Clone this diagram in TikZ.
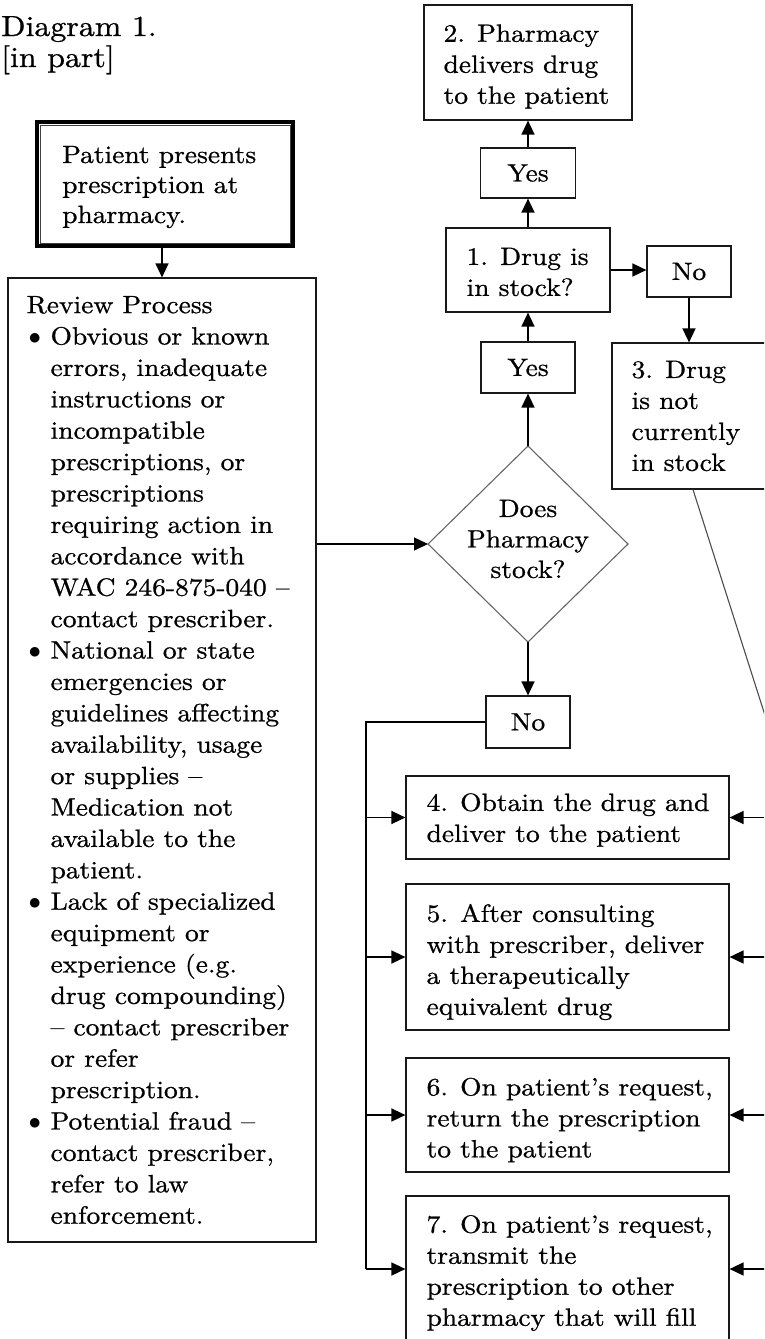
\documentclass[tikz,border=0pt]{standalone}
\usepackage{fontspec}
\setmainfont{lmroman10-regular.otf}[FakeStretch=1.1,FakeBold=0.8]
\usetikzlibrary{arrows.meta}
\newcommand{\bodyf}{\fontsize{25pt}{31pt}\selectfont}
\newcommand{\revf}{\fontsize{25pt}{31.4pt}\selectfont}
\newcommand{\patf}{\fontsize{25pt}{30pt}\selectfont}
\newcommand{\titlef}{\fontsize{29pt}{31pt}\selectfont}
\newcommand{\revbul}{\makebox[24pt][l]{\hspace{2pt}$\bullet$}}
\newcommand{\revind}{\hspace*{24pt}}
\tikzset{
  box/.style={draw=black!90, line width=1.2pt, inner sep=0pt, font=\bodyf, align=center},
  txt/.style={align=left, inner sep=0pt, font=\bodyf, anchor=west},
  conn/.style={line width=1.5pt, draw=black},
  arr/.style={conn, -{Triangle[length=14pt,width=13pt]}},
  diam/.style={draw=black!60, line width=1.1pt},
  thin/.style={draw=black!70, line width=1.1pt},
}
\begin{document}
\begin{tikzpicture}[x=1pt,y=-1pt]
\useasboundingbox (0,0) rectangle (764,1339);
\clip (0,0) rectangle (764,1339);
\fill[white] (0,0) rectangle (764,1339);

% title
\node[anchor=base west, inner sep=0pt, font=\titlef] (title1) at (1,36) {Diagram 1.};
\node[anchor=base west, inner sep=0pt, font=\titlef] (title2) at (1,67) {[in part]};

% patient box (double border)
\node[draw=black, line width=4pt, inner sep=0pt, minimum width=256pt, minimum height=124pt] (patient) at (165,184) {};
\draw[line width=1pt, draw=black!75] ([xshift=5pt,yshift=-5pt]patient.north west) rectangle ([xshift=-5pt,yshift=5pt]patient.south east);
\node[txt, font=\patf] (patienttxt) at ([xshift=27pt,yshift=-3pt]patient.west) {Patient presents\\prescription at\\pharmacy.};

% review box
\node[box, minimum width=308pt, minimum height=964pt] (review) at (162,760) {};
\node[txt, font=\revf] (reviewtxt) at ([xshift=19pt]review.west) {Review Process\\
\revbul Obvious or known\\
\revind errors, inadequate\\
\revind instructions or\\
\revind incompatible\\
\revind prescriptions, or\\
\revind prescriptions\\
\revind requiring action in\\
\revind accordance with\\
\revind WAC 246-875-040 –\\
\revind contact prescriber.\\
\revbul National or state\\
\revind emergencies or\\
\revind guidelines affecting\\
\revind availability, usage\\
\revind or supplies –\\
\revind Medication not\\
\revind available to the\\
\revind patient.\\
\revbul Lack of specialized\\
\revind equipment or\\
\revind experience (e.g.\\
\revind drug compounding)\\
\revind – contact prescriber\\
\revind or refer\\
\revind prescription.\\
\revbul Potential fraud –\\
\revind contact prescriber,\\
\revind refer to law\\
\revind enforcement.};

% central column
\node[box, minimum width=208pt, minimum height=115pt] (b2) at (528,62.5) {};
\node[txt] (b2txt) at ([xshift=20pt,yshift=-4pt]b2.west) {2. Pharmacy\\delivers drug\\to the patient};
\node[box, minimum width=95pt, minimum height=50pt] (yes1) at (528,173) {Yes};
\node[box, minimum width=164pt, minimum height=84pt] (b1) at (528,270) {};
\node[txt] (b1txt) at ([xshift=21pt,yshift=-2pt]b1.west) {1. Drug is\\in stock?};
\node[box, minimum width=84pt, minimum height=51pt] (noR) at (689,271.5) {No};
\node[box, minimum width=180pt, minimum height=146pt] (b3) at (702,416) {};
\node[txt] (b3txt) at ([xshift=20pt]b3.west) {3. Drug\\is not\\currently\\in stock};
\node[box, minimum width=94pt, minimum height=51pt] (yes2) at (528,367.5) {Yes};

% diamond
\coordinate (dT) at (528,446);
\coordinate (dR) at (628,544);
\coordinate (dB) at (528,642);
\coordinate (dL) at (428,544);
\draw[diam] (dT) -- (dR) -- (dB) -- (dL) -- cycle;
\node[align=center, inner sep=0pt, font=\fontsize{25pt}{30.5pt}\selectfont] (dia) at (528,539) {Does\\Pharmacy\\stock?};

\node[box, minimum width=84pt, minimum height=52pt] (noB) at (528,722) {No};

% option boxes
\node[box, minimum width=323pt, minimum height=83pt] (b4) at (567.5,817.5) {};
\node[txt] (b4txt) at ([xshift=21pt,yshift=-2.5pt]b4.west) {4. Obtain the drug and\\deliver to the patient};
\node[box, minimum width=323pt, minimum height=146pt] (b5) at (567.5,957) {};
\node[txt] (b5txt) at ([xshift=21pt,yshift=-5pt]b5.west) {5. After consulting\\with prescriber, deliver\\a therapeutically\\equivalent drug};
\node[box, minimum width=323pt, minimum height=114pt] (b6) at (567.5,1115) {};
\node[txt] (b6txt) at ([xshift=21pt,yshift=-5pt]b6.west) {6. On patient’s request,\\return the prescription\\to the patient};
\node[box, minimum width=323pt, minimum height=146pt] (b7) at (567.5,1269) {};
\node[txt] (b7txt) at ([xshift=21pt,yshift=-4pt]b7.west) {7. On patient’s request,\\transmit the\\prescription to other\\pharmacy that will fill};

% connectors
\draw[arr] (review.north |- patient.south) -- (review.north);
\draw[arr] (review.east |- dL) -- (dL);
\draw[arr] (dT) -- (yes2.south);
\draw[arr] (yes2.north) -- (b1.south);
\draw[arr] (b1.north) -- (yes1.south);
\draw[arr] (yes1.north) -- (b2.south);
\draw[arr] (b1.east) -- (b1.east -| noR.west);
\draw[arr] (noR.south) -- (noR.south |- b3.north);
\draw[arr] (dB) -- (noB.north);

% left bus
\coordinate (Lt) at (366,722);
\coordinate (Lb) at (366,1269);
\draw[conn] (noB.west) -- (Lt) -- (Lb);
\draw[arr] (Lt |- b4.west) -- (b4.west);
\draw[arr] (Lt |- b5.west) -- (b5.west);
\draw[arr] (Lt |- b6.west) -- (b6.west);
\draw[arr] (Lb) -- (b7.west);

% right bus (off page)
\coordinate (R) at (800,825);
\draw[thin] ([xshift=-9pt]b3.south) -- (R);
\draw[conn] (R) -- (R |- b7.east);
\draw[arr] (R |- b4.east) -- (b4.east);
\draw[arr] (R |- b5.east) -- (b5.east);
\draw[arr] (R |- b6.east) -- (b6.east);
\draw[arr] (R |- b7.east) -- (b7.east);
\end{tikzpicture}
\end{document}
